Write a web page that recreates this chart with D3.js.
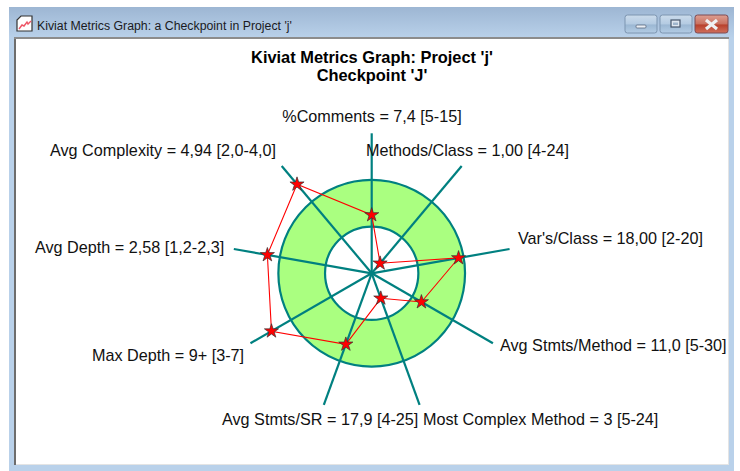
<!DOCTYPE html>
<html>
<head>
<meta charset="utf-8">
<title>Kiviat Metrics Graph</title>
<script src="https://cdn.jsdelivr.net/npm/d3@7"></script>
<style>
  html, body { margin: 0; padding: 0; background: #fff; }
  svg { display: block; }
  text { font-family: "Liberation Sans", Arial, sans-serif; fill: #111; }
</style>
</head>
<body>
<div id="chart"></div>
<script>
// Chart values
var metricLabels = [
  "%Comments = 7,4 [5-15]",
  "Methods/Class = 1,00 [4-24]",
  "Var's/Class = 18,00 [2-20]",
  "Avg Stmts/Method = 11,0 [5-30]",
  "Most Complex Method = 3 [5-24]",
  "Avg Stmts/SR = 17,9 [4-25]",
  "Max Depth = 9+ [3-7]",
  "Avg Depth = 2,58 [1,2-2,3]",
  "Avg Complexity = 4,94 [2,0-4,0]"
];
// radial position of each metric: 1 = bottom of its range, 2 = top of its range
var metricValues = [1.25, 0.28, 1.89, 1.23, 0.57, 1.62, 2.48, 2.27, 2.49];
var bandLimits = [1, 2];
var axisLimit = 3;
var titleLines = ["Kiviat Metrics Graph: Project 'j'", "Checkpoint 'J'"];
var windowTitle = "Kiviat Metrics Graph: a Checkpoint in Project 'j'";

// label anchor points, in the same order as metricLabels
var labelPos = [
  { x: 372, y: 122, anchor: "middle" },
  { x: 366, y: 156, anchor: "start" },
  { x: 518, y: 244, anchor: "start" },
  { x: 500, y: 351, anchor: "start" },
  { x: 423, y: 425, anchor: "start" },
  { x: 222, y: 425, anchor: "start" },
  { x: 92, y: 361, anchor: "start" },
  { x: 35, y: 253, anchor: "start" },
  { x: 50, y: 156, anchor: "start" }
];

var width = 740, height = 471;
var cx = 371.7, cy = 273.3;

var svg = d3.select("#chart").append("svg")
  .attr("width", width)
  .attr("height", height);

var defs = svg.append("defs");

function addGradient(id, stops) {
  var g = defs.append("linearGradient").attr("id", id)
    .attr("x1", 0).attr("y1", 0).attr("x2", 0).attr("y2", 1);
  stops.forEach(function(s) {
    g.append("stop").attr("offset", s[0]).attr("stop-color", s[1]);
  });
}
addGradient("titleBar", [[0, "#9db6d3"], [1, "#b9d1ea"]]);
addGradient("btnBlue", [[0, "#cbdbeb"], [0.5, "#b4cbe2"], [0.55, "#9bb7d3"], [1, "#b3cce4"]]);
addGradient("btnRed", [[0, "#dd9f92"], [0.5, "#c9705f"], [0.55, "#b8402c"], [1, "#d0705c"]]);

// WINDOW FRAME
var frame = svg.append("g");
frame.append("rect").attr("x", 9).attr("y", 7).attr("width", 725).attr("height", 464)
  .attr("fill", "#b9d1ea");
frame.append("rect").attr("x", 9).attr("y", 7).attr("width", 725).attr("height", 31)
  .attr("fill", "url(#titleBar)");
frame.append("rect").attr("x", 15).attr("y", 37).attr("width", 714).attr("height", 428)
  .attr("fill", "#fff");
frame.append("rect").attr("x", 14).attr("y", 37).attr("width", 2).attr("height", 428)
  .attr("fill", "#6d6d6d");
frame.append("rect").attr("x", 14).attr("y", 37).attr("width", 715).attr("height", 2)
  .attr("fill", "#8c8c8c");
frame.append("rect").attr("x", 16).attr("y", 464).attr("width", 713).attr("height", 1)
  .attr("fill", "#e4e4e4");
frame.append("rect").attr("x", 728).attr("y", 39).attr("width", 1).attr("height", 426)
  .attr("fill", "#e4e4e4");

// small window icon
var icon = frame.append("g");
icon.append("path")
  .attr("d", "M17 31V20L21 16H32V31Z")
  .attr("fill", "#fff").attr("stroke", "#333").attr("stroke-width", 1.2);
icon.append("path")
  .attr("d", "M19 29L22 25L24 26L27 22L28 24L31 21")
  .attr("fill", "none").attr("stroke", "#ee5566").attr("stroke-width", 1.4);

frame.append("text")
  .attr("x", 37).attr("y", 30)
  .style("font-size", "12.3px")
  .style("fill", "#1a1a22")
  .text(windowTitle);

// caption buttons
var buttons = [
  { x: 625, w: 32, fill: "url(#btnBlue)" },
  { x: 660, w: 32, fill: "url(#btnBlue)" },
  { x: 695, w: 33, fill: "url(#btnRed)" }
];
frame.selectAll("rect.btn").data(buttons).enter().append("rect")
  .attr("class", "btn")
  .attr("x", function(d) { return d.x; })
  .attr("y", 15).attr("rx", 2.5)
  .attr("width", function(d) { return d.w; })
  .attr("height", 18)
  .attr("fill", function(d) { return d.fill; })
  .attr("stroke", function(d, i) { return i == 2 ? "#7c4a52" : "#7d95b0"; });
frame.append("rect").attr("x", 636).attr("y", 25).attr("width", 10).attr("height", 3)
  .attr("rx", 1).attr("fill", "#e9eef4").attr("stroke", "#5a6a80").attr("stroke-width", 0.8);
frame.append("rect").attr("x", 671).attr("y", 20).attr("width", 9).attr("height", 7)
  .attr("fill", "#dfe7f0").attr("stroke", "#47566b").attr("stroke-width", 1.2);
frame.append("rect").attr("x", 673).attr("y", 22.5).attr("width", 5).attr("height", 2.5)
  .attr("fill", "#9fb5cc");
frame.append("path")
  .attr("d", "M706 20L717 29M717 20L706 29")
  .attr("stroke", "#eef0f2").attr("stroke-width", 3.2);

// TITLE
svg.selectAll("text.title").data(titleLines).enter().append("text")
  .attr("class", "title")
  .attr("x", 372)
  .attr("y", function(d, i) { return 63 + i * 18; })
  .attr("text-anchor", "middle")
  .style("font-size", "16.4px")
  .style("font-weight", "bold")
  .style("fill", "#000")
  .text(function(d) { return d; });

// KIVIAT PLOT
var r = d3.scaleLinear().domain([0, axisLimit]).range([0, 140]);
var angle = d3.scalePoint()
  .domain(metricLabels)
  .range([0, 2 * Math.PI * (metricLabels.length - 1) / metricLabels.length]);

var plot = svg.append("g").attr("transform", "translate(" + cx + "," + cy + ")");

// the green band between the bottom and top of the accepted range
plot.append("path")
  .attr("d", d3.arc()({
    innerRadius: r(bandLimits[0]),
    outerRadius: r(bandLimits[1]),
    startAngle: 0,
    endAngle: 2 * Math.PI
  }))
  .attr("fill", "#aaff80");

plot.selectAll("circle.limit").data(bandLimits).enter().append("circle")
  .attr("class", "limit")
  .attr("r", function(d) { return r(d); })
  .attr("fill", "none")
  .attr("stroke", "#008080")
  .attr("stroke-width", 2.2);

var radial = d3.lineRadial()
  .angle(function(d) { return angle(d.label); })
  .radius(function(d) { return r(d.value); });

plot.selectAll("path.spoke").data(metricLabels).enter().append("path")
  .attr("class", "spoke")
  .attr("d", function(d) {
    return radial([{ label: d, value: 0 }, { label: d, value: axisLimit }]);
  })
  .attr("stroke", "#008080")
  .attr("stroke-width", 2.2)
  .attr("fill", "none");

var points = metricLabels.map(function(d, i) {
  return { label: d, value: metricValues[i] };
});

plot.append("path")
  .attr("d", radial.curve(d3.curveLinearClosed)(points))
  .attr("fill", "none")
  .attr("stroke", "#ff0000")
  .attr("stroke-width", 1.1);

plot.selectAll("path.marker").data(points).enter().append("path")
  .attr("class", "marker")
  .attr("d", d3.symbol().type(d3.symbolStar).size(62))
  .attr("transform", function(d) {
    var a = angle(d.label);
    return "translate(" + (r(d.value) * Math.sin(a)) + "," + (-r(d.value) * Math.cos(a)) + ")";
  })
  .attr("fill", "#ff0000")
  .attr("stroke", "#333")
  .attr("stroke-width", 0.7);

// LABELS
svg.selectAll("text.metric").data(metricLabels).enter().append("text")
  .attr("class", "metric")
  .attr("x", function(d, i) { return labelPos[i].x; })
  .attr("y", function(d, i) { return labelPos[i].y; })
  .attr("text-anchor", function(d, i) { return labelPos[i].anchor; })
  .style("font-size", "16.2px")
  .text(function(d) { return d; });
</script>
</body>
</html>
